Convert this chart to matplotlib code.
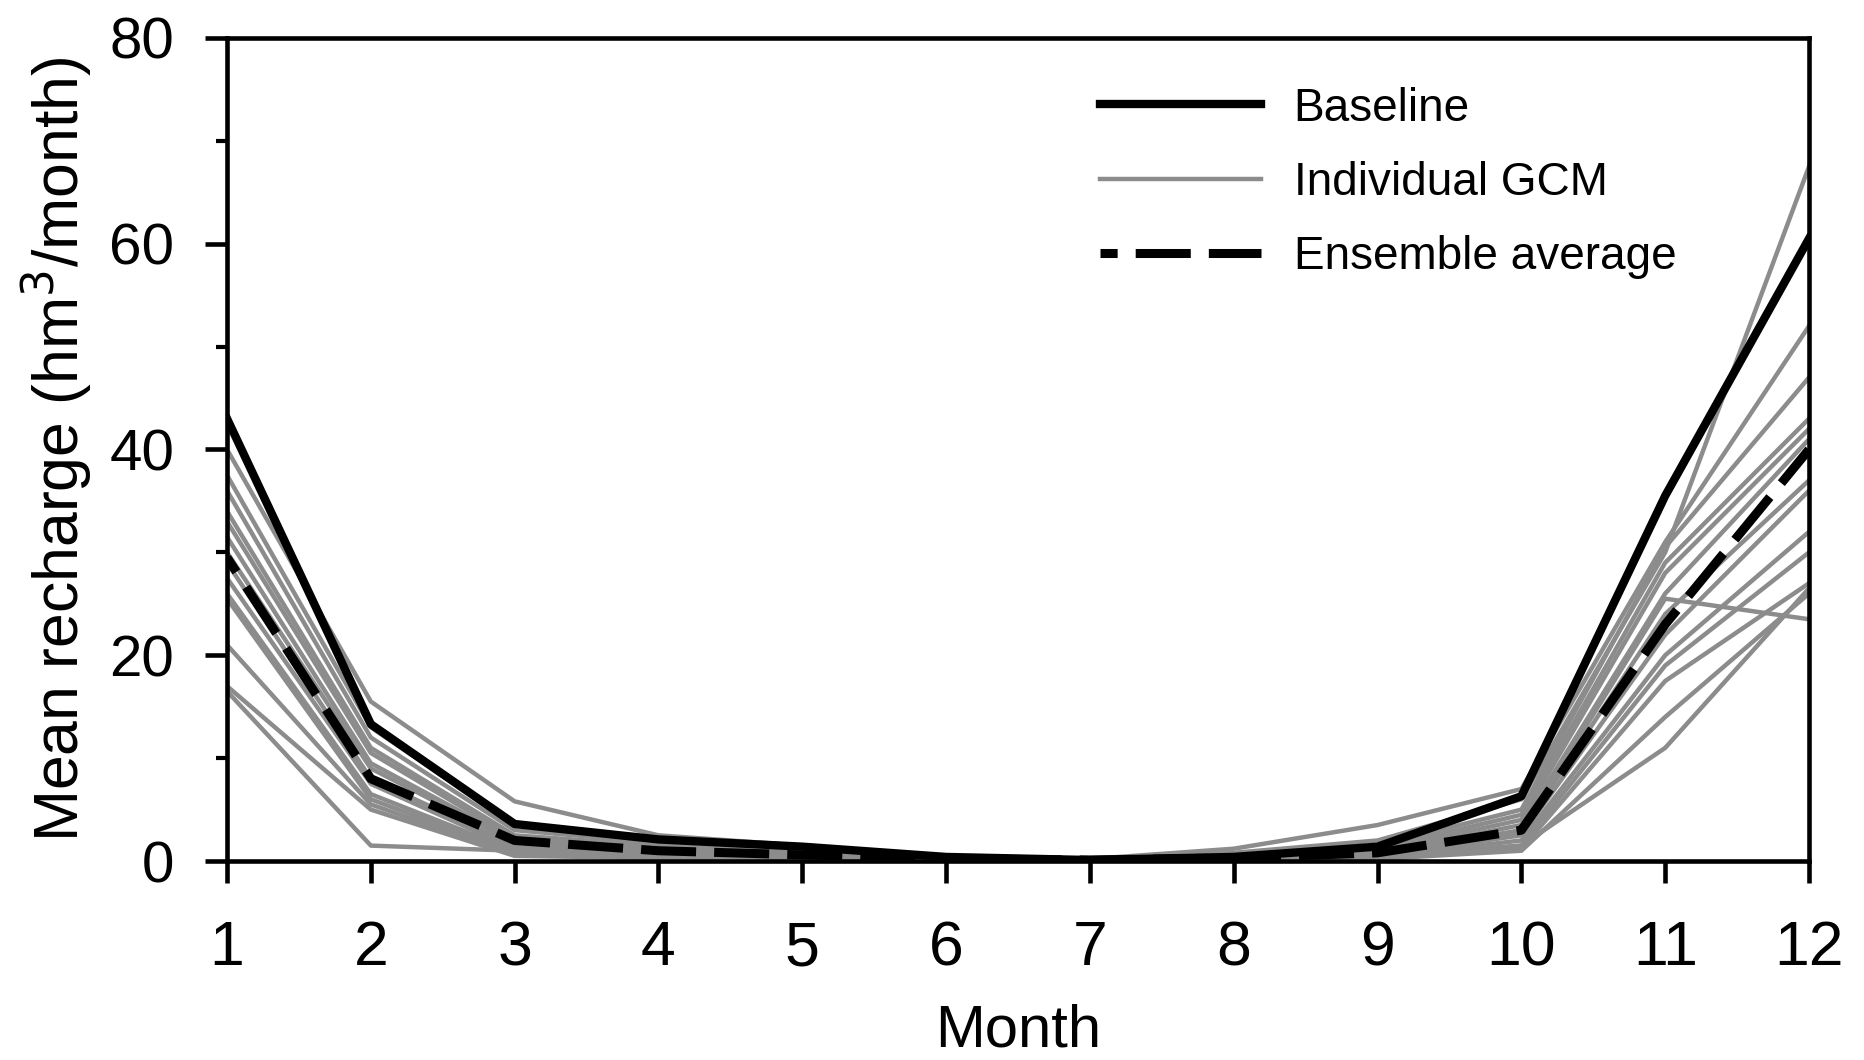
import matplotlib
matplotlib.use('Agg')
import matplotlib.pyplot as plt
import numpy as np

plt.rcParams['font.family'] = ['Liberation Sans', 'DejaVu Sans']

months = np.arange(1, 13)

baseline = [43.0, 13.3, 3.6, 2.1, 1.4, 0.4, 0.1, 0.4, 1.4, 6.3, 35.5, 60.5]
ensemble = [29.5, 8.0, 2.0, 1.0, 0.6, 0.2, 0.1, 0.3, 0.8, 3.0, 23.0, 40.0]

# individual GCM runs, one list per model (months 1..12)
gcm_01 = [40.0, 15.5, 5.8, 2.5, 1.5, 0.5, 0.2, 1.2, 3.5, 7.0, 31.0, 52.0]
gcm_02 = [37.5, 13.0, 3.5, 2.0, 1.3, 0.4, 0.1, 0.8, 2.0, 6.0, 30.0, 67.5]
gcm_03 = [36.0, 12.0, 3.0, 1.8, 1.2, 0.4, 0.1, 0.5, 1.5, 5.0, 30.5, 47.0]
gcm_04 = [34.0, 11.0, 2.5, 1.5, 1.0, 0.3, 0.1, 0.4, 1.2, 4.5, 29.0, 43.0]
gcm_05 = [33.0, 10.5, 2.2, 1.2, 0.9, 0.3, 0.1, 0.3, 1.0, 4.0, 28.0, 42.0]
gcm_06 = [31.5, 9.5, 2.0, 1.0, 0.8, 0.2, 0.1, 0.3, 0.8, 3.5, 26.0, 41.0]
gcm_07 = [30.0, 9.0, 1.8, 0.9, 0.7, 0.2, 0.1, 0.2, 0.7, 3.0, 25.5, 23.5]
gcm_08 = [29.0, 8.0, 1.5, 0.8, 0.6, 0.2, 0.1, 0.2, 0.6, 2.8, 24.0, 37.0]
gcm_09 = [27.5, 7.5, 1.2, 0.7, 0.5, 0.1, 0.0, 0.2, 0.5, 2.5, 22.0, 36.0]
gcm_10 = [26.0, 6.5, 1.0, 0.6, 0.4, 0.1, 0.0, 0.1, 0.4, 2.0, 20.0, 32.0]
gcm_11 = [25.5, 6.0, 0.8, 0.5, 0.3, 0.1, 0.0, 0.1, 0.3, 1.5, 19.0, 30.0]
gcm_12 = [21.0, 5.5, 0.6, 0.4, 0.3, 0.1, 0.0, 0.1, 0.3, 1.2, 17.5, 27.0]
gcm_13 = [17.0, 5.0, 0.5, 0.3, 0.2, 0.1, 0.0, 0.1, 0.2, 1.0, 14.0, 26.0]
gcm_14 = [16.5, 1.5, 1.0, 0.6, 0.4, 0.2, 0.0, 0.1, 0.5, 1.5, 11.0, 26.5]
gcms = [gcm_01, gcm_02, gcm_03, gcm_04, gcm_05, gcm_06, gcm_07,
        gcm_08, gcm_09, gcm_10, gcm_11, gcm_12, gcm_13, gcm_14]

labels = ['Baseline', 'Individual GCM', 'Ensemble average']

fig = plt.figure(figsize=(18.64, 10.6), dpi=100)
ax = fig.add_axes([0.1218, 0.1877, 0.8487, 0.7765])

gray = '#8c8c8c'
for i, g in enumerate(gcms):
    ax.plot(months, g, color=gray, lw=3.2, label=labels[1] if i == 0 else None,
            zorder=2)
ax.plot(months, baseline, color='black', lw=6.0, label=labels[0], zorder=3)
ax.plot(months, ensemble, color='black', lw=6.5, ls=(4.2, (6.1, 2.0)),
        label=labels[2], zorder=4)

ax.set_xlim(1, 12)
ax.set_ylim(0, 80)
ax.set_xticks(months)
ax.set_yticks([0, 20, 40, 60, 80])
ax.set_yticks([10, 30, 50, 70], minor=True)

for s in ax.spines.values():
    s.set_linewidth(3.3)
ax.tick_params(axis='both', which='major', direction='out', length=16, width=3.3)
ax.tick_params(axis='x', which='major', labelsize=45, pad=26)
ax.tick_params(axis='y', which='major', labelsize=42, pad=22)
ax.tick_params(axis='y', which='minor', direction='out', length=8, width=3.0)

ax.set_xlabel('Month', fontsize=43, labelpad=18)
ax.set_ylabel('Mean recharge (hm$^3$/month)', fontsize=45, labelpad=10)

h, l = ax.get_legend_handles_labels()
order = [l.index(x) for x in labels]
ax.legend([h[i] for i in order], [l[i] for i in order], loc='upper left',
          bbox_to_anchor=(0.552, 0.941), frameon=False, fontsize=33,
          handlelength=3.5, handletextpad=0.72, labelspacing=0.66,
          borderpad=0, borderaxespad=0)

fig.savefig('out.png', dpi=100)
